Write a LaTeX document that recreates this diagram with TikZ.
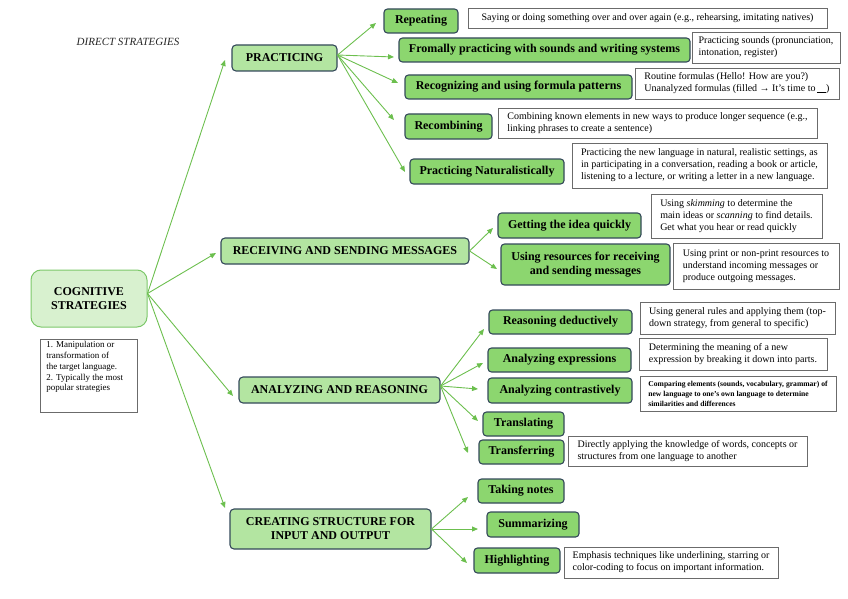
\documentclass[tikz,border=0pt]{standalone}
\usepackage{fontspec}
\setmainfont{Liberation Serif}
\usetikzlibrary{arrows.meta,calc}
\definecolor{arrowgreen}{HTML}{6CBF4E}
\definecolor{bordc}{HTML}{34495A}
\definecolor{branchfill}{HTML}{B3E5A1}
\definecolor{leaffill}{HTML}{8CD66F}
\definecolor{cogfill}{HTML}{D8F1CF}
\definecolor{cogbord}{HTML}{7CC86A}
\definecolor{descbord}{HTML}{6B6B6B}
\begin{document}
\begin{tikzpicture}[x=1pt,y=-1pt,
  branch/.style={draw=bordc, fill=branchfill, line width=1.1pt, rounded corners=4pt,
    font=\fontsize{12}{14}\selectfont\bfseries, inner sep=1pt, align=center},
  leaf/.style={draw=bordc, fill=leaffill, line width=1.1pt, rounded corners=3.5pt,
    font=\fontsize{12}{14}\selectfont\bfseries, inner sep=1pt, align=center},
  desc/.style n args={2}{draw=descbord, fill=white, line width=0.9pt,
    font=\fontsize{10}{12}\selectfont, inner xsep=3pt, inner ysep=1pt,
    align=left, minimum width=#1pt, minimum height=#2pt},
  arr/.style={draw=arrowgreen, line width=0.9pt, -{Triangle[length=6pt,width=5pt]}},
  sz/.style 2 args={minimum width=#1pt, minimum height=#2pt}
]
\useasboundingbox (0,0) rectangle (848,599);

% title
\node[font=\fontsize{11}{13}\selectfont\itshape, text=black!85] (title) at (128,42) {DIRECT STRATEGIES};

% root
\node[draw=cogbord, fill=cogfill, line width=1pt, rounded corners=10pt, sz={116}{57},
  font=\fontsize{12}{14}\selectfont\bfseries, align=center] (cog) at (89,298.5) {COGNITIVE\\STRATEGIES};
\node[draw=descbord, line width=0.9pt, inner sep=0pt, anchor=north west] (notes) at (40,339)
  {\parbox[t][73pt][t]{97pt}{\vspace{2pt}\hspace*{6pt}\parbox[t]{90pt}{\fontsize{9}{10.8}\selectfont\raggedright
  1. Manipulation or\\ transformation of\\ the target language.\\ 2. Typically the most\\ popular strategies}}};

% branches
\node[branch, sz={105}{26}] (prac) at (284.5,58) {PRACTICING};
\node[branch, sz={248}{26}] (recv) at (345,251) {RECEIVING AND SENDING MESSAGES};
\node[branch, sz={201}{26}] (anal) at (339.5,390) {ANALYZING AND REASONING};
\node[branch, sz={201}{40}] (creat) at (330.5,529) {CREATING STRUCTURE FOR\\INPUT AND OUTPUT};

% leaves
\node[leaf, sz={74}{24}] (rep) at (421,21) {Repeating};
\node[leaf, sz={291}{24}] (form) at (544.5,50) {Fromally practicing with sounds and writing systems};
\node[leaf, sz={227}{24}] (recog) at (518.5,87) {Recognizing and using formula patterns};
\node[leaf, sz={87}{25}] (recomb) at (448.5,126.5) {Recombining};
\node[leaf, sz={154}{25}] (natur) at (487,171.5) {Practicing Naturalistically};
\node[leaf, sz={143}{25}] (gett) at (569.5,225.5) {Getting the idea quickly};
\node[leaf, sz={169}{41}] (usin) at (585.5,264.5) {Using resources for receiving\\and sending messages};
\node[leaf, sz={143}{24}] (reas) at (560.5,322) {Reasoning deductively};
\node[leaf, sz={143}{24}] (aexp) at (559.5,360) {Analyzing expressions};
\node[leaf, sz={144}{25}] (acon) at (560,390.5) {Analyzing contrastively};
\node[leaf, sz={81}{24}] (tran) at (523.5,424) {Translating};
\node[leaf, sz={85}{24}] (trsf) at (521.5,452) {Transferring};
\node[leaf, sz={86}{24}] (take) at (521,491) {Taking notes};
\node[leaf, sz={92}{25}] (summ) at (533,524.5) {Summarizing};
\node[leaf, sz={86}{25}] (high) at (517,560.5) {Highlighting};

% descriptions
\node[desc={359}{20}] (drep) at (647.5,18) {Saying or doing something over and over again (e.g., rehearsing, imitating natives)};
\node[desc={148}{31}] (dform) at (766,47.5) {Practicing sounds (pronunciation,\\ intonation, register)};
\node[desc={204}{31}] (drecog) at (737,83.5) {Routine formulas (Hello! How are you?)\\ Unanalyzed formulas (filled \textrightarrow{} It's time to\,\rule{9pt}{0.4pt})};
\node[desc={319}{30}] (drecomb) at (657.5,123) {Combining known elements in new ways to produce longer sequence (e.g.,\\ linking phrases to create a sentence)};
\node[desc={255}{45}] (dnatur) at (699.5,165.5) {Practicing the new language in natural, realistic settings, as\\ in participating in a conversation, reading a book or article,\\ listening to a lecture, or writing a letter in a new language.};
\node[desc={171}{44}] (dgett) at (736.5,216) {Using \textit{skimming} to determine the\\ main ideas or \textit{scanning} to find details.\\ Get what you hear or read quickly};
\node[desc={166}{46}] (dusin) at (756,266) {Using print or non-print resources to\\ understand incoming messages or\\ produce outgoing messages.};
\node[desc={195}{32}] (dreas) at (737.5,318) {Using general rules and applying them (top-\\ down strategy, from general to specific)};
\node[desc={188}{32}] (daexp) at (733,354) {Determining the meaning of a new\\ expression by breaking it down into parts.};
\node[desc={196}{35}, font=\fontsize{7.6}{10}\selectfont\bfseries] (dacon) at (738,393.5) {Comparing elements (sounds, vocabulary, grammar) of\\ new language to one's own language to determine\\ similarities and differences};
\node[desc={239}{30}] (dtrsf) at (687.5,451) {Directly applying the knowledge of words, concepts or\\ structures from one language to another};
\node[desc={214}{31}] (dhigh) at (671,562.5) {Emphasis techniques like underlining, starring or\\ color-coding to focus on important information.};

% arrow tip coordinates
\coordinate (tprac) at (225,60);
\coordinate (trecv) at (216,253);
\coordinate (tanal) at (233,396);
\coordinate (tcreat) at (225,508);
\coordinate (trep) at (376,23);
\coordinate (tform) at (394,57);
\coordinate (trecog) at (398,83);
\coordinate (trecomb) at (394,120);
\coordinate (tnatur) at (405,172);
\coordinate (tgett) at (493,228);
\coordinate (tusin) at (497,269);
\coordinate (treas) at (484,329);
\coordinate (taexp) at (483,363);
\coordinate (tacon) at (478,389);
\coordinate (ttran) at (478,421);
\coordinate (ttrsf) at (468,453);
\coordinate (ttake) at (468,497);
\coordinate (tsumm) at (478,529);
\coordinate (thigh) at (467,563);

% connectors
\foreach \t in {tprac,trecv,tanal,tcreat}
  \draw[arr] ([yshift=5pt]cog.east) -- (\t);
\foreach \t in {trep,tform,trecog,trecomb,tnatur}
  \draw[arr] ([yshift=3pt]prac.east) -- (\t);
\foreach \t in {tgett,tusin}
  \draw[arr] (recv.east) -- (\t);
\foreach \t in {treas,taexp,tacon,ttran,ttrsf}
  \draw[arr] ([yshift=4pt]anal.east) -- (\t);
\foreach \t in {ttake,tsumm,thigh}
  \draw[arr] (creat.east) -- (\t);
\end{tikzpicture}
\end{document}
